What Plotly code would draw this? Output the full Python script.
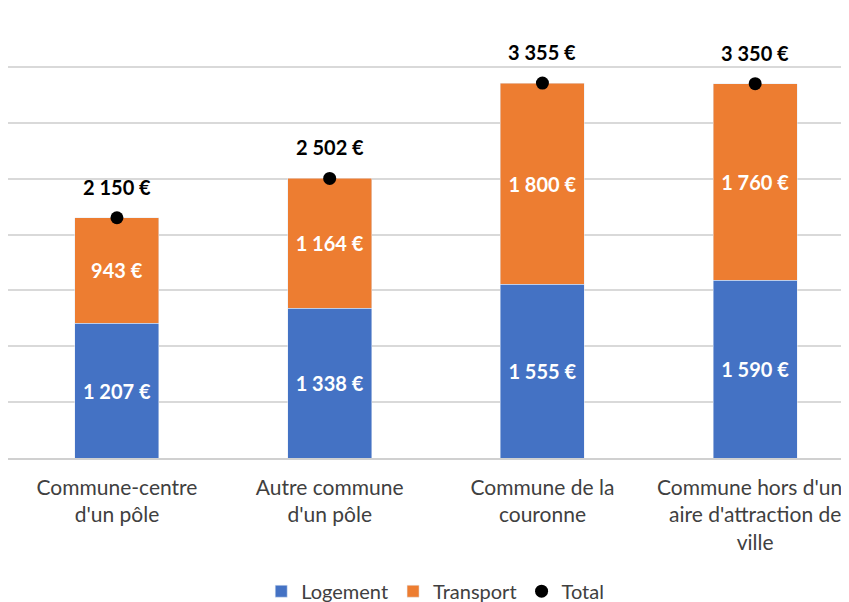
import plotly.graph_objects as go

categories = ["Commune-centre<br>d'un pôle", "Autre commune<br>d'un pôle",
              "Commune de la<br>couronne", "Commune hors d'une<br>aire d'attraction de<br>ville"]
logement = [1207, 1338, 1555, 1590]
transport = [943, 1164, 1800, 1760]
total = [2150, 2502, 3355, 3350]

def fmt(v):
    return f"{v:,}".replace(",", " ") + " €"

FONT = "Lato"
fig = go.Figure()
fig.add_trace(go.Bar(name="Logement", x=categories, y=logement, marker_color="#4472C4",
                     text=[fmt(v) for v in logement], textposition="inside",
                     insidetextanchor="middle", textangle=0, constraintext="none",
                     textfont=dict(color="white", size=20, family=FONT, weight="bold")))
fig.add_trace(go.Bar(name="Transport", x=categories, y=transport, marker_color="#ED7D31",
                     text=[fmt(v) for v in transport], textposition="inside",
                     insidetextanchor="middle", textangle=0, constraintext="none",
                     textfont=dict(color="white", size=20, family=FONT, weight="bold")))
fig.add_trace(go.Scatter(name="Total", x=categories, y=total, mode="markers",
                         marker=dict(color="black", size=13, symbol="circle")))
for c, t in zip(categories, total):
    fig.add_annotation(x=c, y=t, text=f"<b>{fmt(t)}</b>", showarrow=False, yshift=31,
                       font=dict(color="black", size=20, family=FONT))

# page body has an 8px default margin: figure sized/offset to compensate
fig.update_layout(
    width=841, height=594, barmode="stack", bargap=0.605,
    margin=dict(l=0, r=0, t=3, b=144, autoexpand=False),
    plot_bgcolor="white", paper_bgcolor="white",
    font=dict(family=FONT, size=20, color="#404040"),
    showlegend=True,
    legend=dict(orientation="h", x=0.508, xanchor="center", y=-0.298, yanchor="middle",
                font=dict(size=20, color="#404040"), traceorder="normal"),
    xaxis=dict(range=[-0.512, 3.441], showline=True, linecolor="#D0D0D0", linewidth=1.5,
               ticks="", tickfont=dict(size=21, color="#404040"), ticklabelstandoff=10,
               automargin=False),
    yaxis=dict(range=[0, 4000], dtick=500, showgrid=True, gridcolor="#D9D9D9", gridwidth=1.5,
               showticklabels=False, zeroline=False, automargin=False),
)
fig.write_html("out.html")
